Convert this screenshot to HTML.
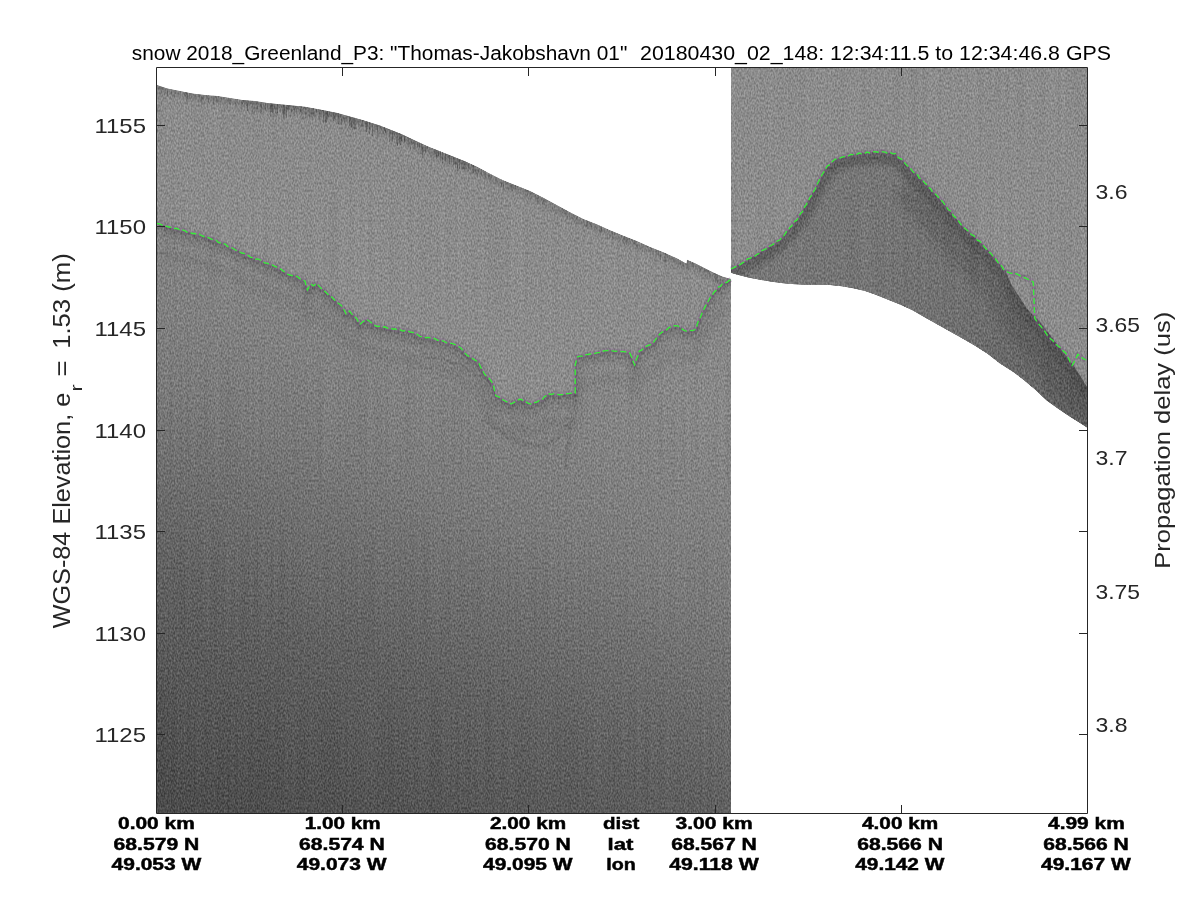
<!DOCTYPE html>
<html><head><meta charset="utf-8"><style>
html,body{margin:0;padding:0;background:#fff;width:1200px;height:900px;overflow:hidden}
svg{display:block;will-change:transform}
</style></head><body>
<svg width="1200" height="900" viewBox="0 0 1200 900">
<defs>
<linearGradient id="gL" gradientUnits="userSpaceOnUse" x1="157" y1="85" x2="-109.4" y2="753.9">
 <stop offset="0.125" stop-color="#878787"/><stop offset="0.292" stop-color="#7f7f7f"/><stop offset="0.385" stop-color="#797979"/>
 <stop offset="0.45" stop-color="#727272"/><stop offset="0.63" stop-color="#606060"/><stop offset="0.8875" stop-color="#4e4e4e"/><stop offset="1" stop-color="#474747"/></linearGradient>
<linearGradient id="gR" gradientUnits="userSpaceOnUse" x1="820" y1="200" x2="1087" y2="430">
 <stop offset="0" stop-color="#777777"/><stop offset="0.5" stop-color="#707070"/><stop offset="1" stop-color="#5e5e5e"/></linearGradient>
<filter id="nz" x="0" y="0" width="1200" height="900" filterUnits="userSpaceOnUse" color-interpolation-filters="sRGB">
 <feTurbulence type="fractalNoise" baseFrequency="0.7 0.4" numOctaves="1" seed="7" result="t"/>
 <feColorMatrix in="t" type="matrix" values="1 0 0 0 0  1 0 0 0 0  1 0 0 0 0  0 0 0 0 1" result="g"/>
 <feTurbulence type="fractalNoise" baseFrequency="0.4 0.006" numOctaves="1" seed="11" result="t2"/>
 <feColorMatrix in="t2" type="matrix" values="1 0 0 0 0  1 0 0 0 0  1 0 0 0 0  0 0 0 0 1" result="g2"/>
 <feComposite in="SourceGraphic" in2="g" operator="arithmetic" k1="0" k2="1" k3="0.36" k4="-0.18" result="o"/>
 <feComposite in="o" in2="g2" operator="arithmetic" k1="0" k2="1" k3="0.06" k4="-0.03" result="o2"/>
 <feComposite in="o2" in2="SourceGraphic" operator="in"/>
</filter>
<filter id="bl" x="-5%" y="-5%" width="110%" height="110%"><feGaussianBlur stdDeviation="2.5"/></filter>
<filter id="bl3" x="-5%" y="-5%" width="110%" height="110%"><feGaussianBlur stdDeviation="0.8"/></filter>
<filter id="bl2" x="-5%" y="-5%" width="110%" height="110%"><feGaussianBlur stdDeviation="5"/></filter>
<clipPath id="cL"><polygon points="157,813 157,84.9 167.5,88.6 180,91.1 192.5,93.6 205,94.9 217.5,96.1 230,98 242.5,99.9 255,101.1 267.5,103 280,104.25 292.5,105.5 305,106.75 320,109.4 337.5,113 362.5,120 380,125.5 390,129.4 402.5,134.4 415,140.6 427.5,146.25 440,151.25 452.5,156.25 465,161.25 477.5,166.9 490,173.75 502.5,180 515,185 530,191 543.3,197.7 556.7,205 570,212.3 583.3,219 596.7,224.3 610,230.3 623.3,235.7 636.7,241 650,247 663.3,252.3 676.7,258.3 686.6,263.75 687,259.8 695.6,263.6 704.4,268 713.3,272.4 722.2,276.4 731,279 731,813"/></clipPath>
<clipPath id="cLlow"><polygon points="157,223.5 175,228.5 206.7,236.7 230,247 253,257.7 276.7,267 290,275 297,276.3 305,281 307.5,290 311,284 313.3,286 316.8,283.3 325,291.5 334.3,299.7 341.3,305.5 346,314 349.5,311 355.3,317.2 360,324.2 365.8,319.5 377.5,326.5 395,328.8 412.5,332.3 420,336.3 431.7,338.7 443.3,341 455,344.5 460.8,348 466.7,355 472.5,358.5 478.3,362 484.2,373.7 490,379.5 493.5,385.3 495.8,395.8 501.7,399.3 511,404 519.2,399.3 530.8,404 542.5,399.3 548.3,393.5 560,394.7 575.2,393 575.2,365 577.5,356.8 595,353.3 609,350.4 618.3,351 630,353.3 634.7,365 639.3,351 653.3,342.8 660,333.8 668.9,327.6 677.8,325.8 686.7,331.1 695.6,329.3 697.3,324 702.7,311.6 708.9,300 715.1,291.1 722.2,284 729.3,280.4 731,279.5 731,813 157,813"/></clipPath>
<clipPath id="cR"><polygon points="731,68 1087,68 1087,427.5 1080,423 1068.9,416 1057.8,408.5 1046.7,400.5 1035.6,390 1024.4,380.5 1013.3,372 1000,363.5 987.5,353.7 975,345.7 962.5,338.5 950,331.5 937.5,324.5 925,317.5 912.5,310.3 900,304.5 887.5,299.4 875,294.4 865,291 853.3,288.3 841.7,286.2 830,285 818.3,284.8 806.7,284.7 795,284.2 783.3,283.25 771.7,281.7 760,279.75 748.3,277.4 736.7,274.5 731,272.75"/></clipPath>
<clipPath id="cRlow"><polygon points="731,269 750,258.3 766.7,248.3 780,239.8 798.3,217.8 811.2,195.8 825.8,168.3 835,159.2 853.3,154.6 875.3,151.8 895.5,153.7 908.3,166.5 926.7,184.8 945,205 963.3,227 981.7,243.5 996.3,260 1005.6,271.1 1012,286 1028,310 1040,322 1060,348 1074,366 1087,387 1087,427.5 1080,423 1068.9,416 1057.8,408.5 1046.7,400.5 1035.6,390 1024.4,380.5 1013.3,372 1000,363.5 987.5,353.7 975,345.7 962.5,338.5 950,331.5 937.5,324.5 925,317.5 912.5,310.3 900,304.5 887.5,299.4 875,294.4 865,291 853.3,288.3 841.7,286.2 830,285 818.3,284.8 806.7,284.7 795,284.2 783.3,283.25 771.7,281.7 760,279.75 748.3,277.4 736.7,274.5 731,272.75"/></clipPath>
</defs>
<rect width="1200" height="900" fill="#fff"/>
<g filter="url(#nz)">
<polygon points="157,813 157,84.9 167.5,88.6 180,91.1 192.5,93.6 205,94.9 217.5,96.1 230,98 242.5,99.9 255,101.1 267.5,103 280,104.25 292.5,105.5 305,106.75 320,109.4 337.5,113 362.5,120 380,125.5 390,129.4 402.5,134.4 415,140.6 427.5,146.25 440,151.25 452.5,156.25 465,161.25 477.5,166.9 490,173.75 502.5,180 515,185 530,191 543.3,197.7 556.7,205 570,212.3 583.3,219 596.7,224.3 610,230.3 623.3,235.7 636.7,241 650,247 663.3,252.3 676.7,258.3 686.6,263.75 687,259.8 695.6,263.6 704.4,268 713.3,272.4 722.2,276.4 731,279 731,813" fill="#8b8b8b"/>
<polygon points="157,223.5 175,228.5 206.7,236.7 230,247 253,257.7 276.7,267 290,275 297,276.3 305,281 307.5,290 311,284 313.3,286 316.8,283.3 325,291.5 334.3,299.7 341.3,305.5 346,314 349.5,311 355.3,317.2 360,324.2 365.8,319.5 377.5,326.5 395,328.8 412.5,332.3 420,336.3 431.7,338.7 443.3,341 455,344.5 460.8,348 466.7,355 472.5,358.5 478.3,362 484.2,373.7 490,379.5 493.5,385.3 495.8,395.8 501.7,399.3 511,404 519.2,399.3 530.8,404 542.5,399.3 548.3,393.5 560,394.7 575.2,393 575.2,365 577.5,356.8 595,353.3 609,350.4 618.3,351 630,353.3 634.7,365 639.3,351 653.3,342.8 660,333.8 668.9,327.6 677.8,325.8 686.7,331.1 695.6,329.3 697.3,324 702.7,311.6 708.9,300 715.1,291.1 722.2,284 729.3,280.4 731,279.5 731,813 157,813" fill="url(#gL)"/>
<polygon points="731,68 1087,68 1087,427.5 1080,423 1068.9,416 1057.8,408.5 1046.7,400.5 1035.6,390 1024.4,380.5 1013.3,372 1000,363.5 987.5,353.7 975,345.7 962.5,338.5 950,331.5 937.5,324.5 925,317.5 912.5,310.3 900,304.5 887.5,299.4 875,294.4 865,291 853.3,288.3 841.7,286.2 830,285 818.3,284.8 806.7,284.7 795,284.2 783.3,283.25 771.7,281.7 760,279.75 748.3,277.4 736.7,274.5 731,272.75" fill="#8b8b8b"/>
<polygon points="731,269 750,258.3 766.7,248.3 780,239.8 798.3,217.8 811.2,195.8 825.8,168.3 835,159.2 853.3,154.6 875.3,151.8 895.5,153.7 908.3,166.5 926.7,184.8 945,205 963.3,227 981.7,243.5 996.3,260 1005.6,271.1 1012,286 1028,310 1040,322 1060,348 1074,366 1087,387 1087,427.5 1080,423 1068.9,416 1057.8,408.5 1046.7,400.5 1035.6,390 1024.4,380.5 1013.3,372 1000,363.5 987.5,353.7 975,345.7 962.5,338.5 950,331.5 937.5,324.5 925,317.5 912.5,310.3 900,304.5 887.5,299.4 875,294.4 865,291 853.3,288.3 841.7,286.2 830,285 818.3,284.8 806.7,284.7 795,284.2 783.3,283.25 771.7,281.7 760,279.75 748.3,277.4 736.7,274.5 731,272.75" fill="url(#gR)"/>
<g clip-path="url(#cL)"><polyline points="157,87.9 167.5,91.6 180,94.1 192.5,96.6 205,97.9 217.5,99.1 230,101 242.5,102.9 255,104.1 267.5,106 280,107.25 292.5,108.5 305,109.75 320,112.4 337.5,116 362.5,123 380,128.5 390,132.4 402.5,137.4 415,143.6 427.5,149.25 440,154.25 452.5,159.25 465,164.25 477.5,169.9 490,176.75 502.5,183 515,188 530,194 543.3,200.7 556.7,208 570,215.3 583.3,222 596.7,227.3 610,233.3 623.3,238.7 636.7,244 650,250 663.3,255.3 676.7,261.3 686.6,266.75 687,262.8 695.6,266.6 704.4,271 713.3,275.4 722.2,279.4 731,282" fill="none" stroke="#555" stroke-opacity="0.3" stroke-width="6" filter="url(#bl)"/>
<path d="M158.5 84.4v4.5M161.5 85.5v5.8M165.5 86.9v6.0M168.5 87.8v4.5M170.5 88.2v2.8M171.5 88.4v5.1M174.5 89.0v10.8M180.5 90.2v4.1M184.5 91.0v6.1M191.5 92.4v4.9M192.5 92.6v2.3M195.5 92.9v7.9M200.5 93.4v7.3M202.5 93.6v8.8M204.5 93.8v2.6M212.5 94.6v4.6M214.5 94.8v6.5M217.5 95.1v5.4M221.5 95.7v3.0M226.5 96.5v6.4M229.5 96.9v6.9M230.5 97.1v7.5M235.5 97.8v8.0M236.5 98.0v6.7M237.5 98.1v2.6M239.5 98.4v4.0M240.5 98.6v2.8M241.5 98.7v13.2M245.5 99.2v4.5M248.5 99.5v10.4M249.5 99.6v6.4M253.5 100.0v13.1M254.5 100.1v15.0M256.5 100.3v13.0M258.5 100.6v4.1M263.5 101.4v11.3M264.5 101.5v4.8M267.5 102.0v13.1M268.5 102.1v8.6M269.5 102.2v2.9M273.5 102.6v14.2M276.5 102.9v14.1M280.5 103.3v6.5M281.5 103.4v6.8M285.5 103.8v10.6M290.5 104.3v13.8M292.5 104.5v6.3M297.5 105.0v3.9M298.5 105.1v6.7M299.5 105.2v4.7M302.5 105.5v14.0M303.5 105.6v14.7M306.5 106.0v13.2M307.5 106.2v12.2M310.5 106.7v12.7M315.5 107.6v14.2M321.5 108.7v4.5M324.5 109.3v6.7M330.5 110.6v10.8M332.5 111.0v6.0M337.5 112.0v10.1M339.5 112.6v12.5M342.5 113.4v10.2M344.5 114.0v10.5M345.5 114.2v13.2M347.5 114.8v2.7M348.5 115.1v3.6M356.5 117.3v5.6M358.5 117.9v9.0M359.5 118.2v7.0M361.5 118.7v8.1M370.5 121.5v8.1M374.5 122.8v13.3M375.5 123.1v6.9M378.5 124.0v3.1M381.5 125.1v2.4M382.5 125.5v2.3M383.5 125.9v8.2M386.5 127.0v11.7M390.5 128.6v11.3M391.5 129.0v12.8M398.5 131.8v8.0M402.5 133.4v6.2M406.5 135.4v4.4M409.5 136.9v8.7M412.5 138.4v8.4M418.5 141.2v5.3M420.5 142.1v11.9M423.5 143.4v14.7M429.5 146.1v7.7M431.5 146.8v13.2M432.5 147.2v7.2M433.5 147.7v10.9M443.5 151.7v10.6M444.5 152.1v9.2M450.5 154.4v4.6M452.5 155.2v2.9M456.5 156.8v8.4M458.5 157.7v5.3M461.5 158.8v9.5M469.5 162.3v5.3M471.5 163.2v8.7M474.5 164.5v10.1M476.5 165.4v11.1M477.5 165.9v10.2M478.5 166.4v6.0M479.5 167.0v3.2M480.5 167.5v3.5M483.5 169.2v6.3M484.5 169.7v7.0M488.5 171.9v9.1M489.5 172.5v9.1M495.5 175.5v6.4M496.5 176.0v6.9M500.5 178.0v5.4M507.5 181.0v2.9M508.5 181.4v10.2M510.5 182.2v7.9M511.5 182.6v9.0M518.5 185.4v7.7M523.5 187.4v3.5M525.5 188.2v9.2M526.5 188.6v5.9M527.5 189.0v7.1M528.5 189.4v2.7M530.5 190.3v10.2M531.5 190.8v7.7M532.5 191.3v2.1M535.5 192.8v6.0M538.5 194.3v9.6M541.5 195.8v5.4M542.5 196.3v10.9M543.5 196.8v9.5M552.5 201.7v9.2M563.5 207.7v3.2M564.5 208.3v5.7M565.5 208.8v6.9M566.5 209.4v10.2M567.5 209.9v9.4M569.5 211.0v9.8M570.5 211.6v2.7M576.5 214.6v9.1M577.5 215.1v3.1M583.5 218.1v4.1M588.5 220.1v5.7M589.5 220.5v2.3M595.5 222.8v5.7M599.5 224.6v8.2M600.5 225.0v10.6M604.5 226.8v4.5M609.5 229.1v9.1M613.5 230.7v3.9M615.5 231.5v9.7M617.5 232.3v9.2M619.5 233.2v2.1M621.5 234.0v4.4M623.5 234.8v8.7M627.5 236.4v6.1M628.5 236.8v6.3M636.5 239.9v9.1M641.5 242.2v6.1M642.5 242.6v9.4M643.5 243.1v2.9M644.5 243.5v4.3M646.5 244.4v2.8M648.5 245.3v3.2M650.5 246.2v5.0M651.5 246.6v9.9M656.5 248.6v7.2M657.5 249.0v6.3M658.5 249.4v7.0M669.5 254.1v3.6M670.5 254.5v5.6M673.5 255.9v6.8M674.5 256.3v5.1M678.5 258.3v8.8M680.5 259.4v8.0M683.5 261.0v5.9M686.5 262.7v4.8M687.5 259.0v7.4M688.5 259.5v10.5M690.5 260.3v3.1M695.5 262.6v9.8M696.5 263.1v6.1M699.5 264.6v8.4M700.5 265.1v5.6M701.5 265.6v10.5M704.5 267.0v9.6M705.5 267.5v5.6M706.5 268.0v4.8M707.5 268.5v9.0M709.5 269.5v9.0M713.5 271.5v3.3M720.5 274.6v10.7M721.5 275.1v2.6M725.5 276.4v2.7M726.5 276.7v2.5M727.5 277.0v9.8" stroke="#333" stroke-opacity="0.12" stroke-width="1"/>
<path d="M159.5 84.8v2.9M162.5 85.8v4.1M163.5 86.2v3.8M167.5 87.6v9.3M175.5 89.2v4.6M185.5 91.2v5.2M186.5 91.4v10.4M187.5 91.6v7.7M189.5 92.0v5.4M193.5 92.7v2.6M198.5 93.2v3.3M199.5 93.3v4.4M201.5 93.5v11.0M203.5 93.7v3.4M206.5 94.0v4.3M208.5 94.2v8.5M213.5 94.7v10.6M215.5 94.9v3.0M216.5 95.0v7.8M218.5 95.3v9.0M224.5 96.2v2.5M228.5 96.8v3.1M242.5 98.9v5.6M244.5 99.1v5.2M246.5 99.3v6.6M250.5 99.7v4.5M251.5 99.8v4.4M252.5 99.9v14.0M257.5 100.5v8.3M260.5 100.9v12.2M266.5 101.8v2.7M274.5 102.7v6.1M275.5 102.8v10.7M279.5 103.2v4.8M282.5 103.5v9.1M289.5 104.2v5.4M291.5 104.4v7.5M296.5 104.9v9.1M305.5 105.8v12.2M308.5 106.4v2.5M309.5 106.5v12.6M311.5 106.9v10.6M312.5 107.1v13.2M318.5 108.1v3.4M319.5 108.3v12.2M320.5 108.5v8.6M328.5 110.1v7.2M340.5 112.8v5.2M341.5 113.1v12.0M343.5 113.7v7.0M350.5 115.6v14.4M352.5 116.2v13.8M353.5 116.5v11.7M355.5 117.0v12.1M357.5 117.6v5.0M360.5 118.4v2.8M364.5 119.6v2.1M365.5 119.9v7.1M367.5 120.6v8.3M368.5 120.9v2.4M376.5 123.4v6.4M377.5 123.7v14.4M379.5 124.3v2.7M387.5 127.4v4.1M388.5 127.8v2.3M389.5 128.2v13.8M394.5 130.2v6.5M396.5 131.0v13.0M403.5 133.9v3.1M405.5 134.9v6.4M407.5 135.9v5.4M408.5 136.4v11.1M410.5 137.4v11.4M411.5 137.9v5.1M414.5 139.4v10.6M415.5 139.8v8.9M417.5 140.7v6.6M421.5 142.5v11.6M424.5 143.9v6.7M425.5 144.3v8.9M426.5 144.8v2.7M427.5 145.2v3.6M428.5 145.7v2.2M434.5 148.1v9.3M437.5 149.2v8.8M446.5 152.8v2.4M447.5 153.2v11.1M448.5 153.7v5.0M451.5 154.8v10.4M454.5 156.1v7.7M455.5 156.4v11.1M462.5 159.2v10.5M464.5 160.1v14.6M466.5 160.9v4.1M467.5 161.4v5.7M468.5 161.8v9.2M472.5 163.6v9.1M475.5 165.0v9.1M481.5 168.1v8.4M485.5 170.3v7.4M491.5 173.5v4.7M501.5 178.5v8.7M503.5 179.4v10.9M505.5 180.2v2.3M512.5 183.0v8.2M513.5 183.4v5.0M515.5 184.2v4.8M517.5 185.0v6.9M521.5 186.6v2.9M537.5 193.8v10.7M544.5 197.4v7.1M562.5 207.2v6.0M586.5 219.3v7.5M587.5 219.7v9.4M590.5 220.8v4.1M591.5 221.2v6.1M594.5 222.4v7.3M601.5 225.5v8.2M607.5 228.2v3.9M612.5 230.3v9.5M614.5 231.1v3.3M624.5 235.2v5.3M625.5 235.6v6.5M626.5 236.0v9.0M629.5 237.2v3.0M631.5 237.9v2.7M632.5 238.3v3.1M634.5 239.1v4.9M635.5 239.5v6.1M647.5 244.9v2.9M660.5 250.2v9.3M665.5 252.3v10.4M666.5 252.7v3.6M675.5 256.8v4.9M682.5 260.5v3.9M692.5 261.2v5.4M693.5 261.7v7.0M708.5 269.0v3.0M714.5 271.9v3.4M715.5 272.4v10.6M716.5 272.8v8.8M717.5 273.3v10.3M729.5 277.6v6.2" stroke="#333" stroke-opacity="0.25" stroke-width="1"/>
<path d="M243.5 99.0v3.7M247.5 99.4v11.5M261.5 101.1v11.1M265.5 101.7v9.0M270.5 102.3v14.2M271.5 102.4v9.7M272.5 102.5v10.5M277.5 103.0v10.1M283.5 103.6v14.8M284.5 103.7v10.7M286.5 103.9v13.6M287.5 104.0v5.5M288.5 104.1v6.5M293.5 104.6v5.4M294.5 104.7v11.2M295.5 104.8v3.0M300.5 105.3v6.6M301.5 105.4v7.3M304.5 105.7v2.3M313.5 107.3v8.6M316.5 107.8v5.4M322.5 108.9v2.0M323.5 109.1v14.2M325.5 109.5v14.0M326.5 109.7v13.0M327.5 109.9v8.6M329.5 110.4v4.5M331.5 110.8v5.9M333.5 111.2v9.5M334.5 111.4v7.7M335.5 111.6v8.2M336.5 111.8v3.1M338.5 112.3v11.8M346.5 114.5v4.8M349.5 115.4v10.7M351.5 115.9v11.4M354.5 116.8v11.8M362.5 119.0v7.5M363.5 119.3v2.3M366.5 120.3v11.6M369.5 121.2v12.4M372.5 122.1v13.8M373.5 122.5v2.4M380.5 124.7v2.9M384.5 126.3v4.8M385.5 126.6v6.8M392.5 129.4v12.0M393.5 129.8v3.6M395.5 130.6v2.9M397.5 131.4v14.5M399.5 132.2v11.5M400.5 132.6v12.5M401.5 133.0v8.0M404.5 134.4v8.0M413.5 138.9v4.9M419.5 141.6v6.1M422.5 143.0v14.7M435.5 148.4v5.2M436.5 148.8v9.9M438.5 149.7v5.9M440.5 150.4v10.1M442.5 151.2v11.9M445.5 152.4v7.9M449.5 154.1v10.1M453.5 155.7v9.7M457.5 157.2v13.6M459.5 158.1v10.8M460.5 158.4v2.3M463.5 159.7v9.6M465.5 160.5v6.3M473.5 164.1v8.7" stroke="#333" stroke-opacity="0.4" stroke-width="1"/>
</g>
<g clip-path="url(#cLlow)"><polyline points="157,229.5 175,234.5 206.7,242.7 230,253 253,263.7 276.7,273 290,281 297,282.3 305,287 307.5,296 311,290 313.3,292 316.8,289.3 325,297.5 334.3,305.7 341.3,311.5 346,320 349.5,317 355.3,323.2 360,330.2 365.8,325.5 377.5,332.5 395,334.8 412.5,338.3 420,342.3 431.7,344.7 443.3,347 455,350.5 460.8,354 466.7,361 472.5,364.5 478.3,368 484.2,379.7 490,385.5 493.5,391.3 495.8,401.8 501.7,405.3 511,410 519.2,405.3 530.8,410 542.5,405.3 548.3,399.5 560,400.7 575.2,399 575.2,371 577.5,362.8 595,359.3 609,356.4 618.3,357 630,359.3 634.7,371 639.3,357 653.3,348.8 660,339.8 668.9,333.6 677.8,331.8 686.7,337.1 695.6,335.3 697.3,330 702.7,317.6 708.9,306 715.1,297.1 722.2,290 729.3,286.4 731,285.5" fill="none" stroke="#444" stroke-opacity="0.16" stroke-width="10" filter="url(#bl)"/><polyline points="157,226 159.6,226.6 162.1,227.2 164.7,227.4 167.3,229.6 169.9,228.6 172.4,230.3 175,231 177.4,232.4 179.9,231.4 182.3,233 184.8,233.8 187.2,233.2 189.6,234.5 192.1,235.8 194.5,236 196.9,237.1 199.4,236.6 201.8,237.4 204.3,237.8 206.7,239.2 209,240.2 211.4,242.1 213.7,242.5 216,243.9 218.3,244.1 220.7,245.9 223,245.6 225.3,247 227.7,248.8 230,249.5 232.3,251 234.6,251.5 236.9,251.9 239.2,253.3 241.5,254.3 243.8,255.5 246.1,257.6 248.4,257.5 250.7,259.9 253,260.2 255.4,261.9 257.7,261.2 260.1,262.7 262.5,263.9 264.9,263.9 267.2,265.6 269.6,267.5 272,266.9 274.3,268.8 276.7,269.5 278.9,270.1 281.1,272.3 283.4,274.3 285.6,274.2 287.8,275.2 290,277.5 293.5,277.3 297,278.8 299.7,280.4 302.3,281 305,283.5 305.8,285.7 306.7,289.5 307.5,292.5 309.2,290.3 311,286.5 313.3,288.5 316.8,285.8 318.9,287.7 320.9,289.7 322.9,292.2 325,294 327.3,295.2 329.6,298.3 332,299.5 334.3,302.2 336.6,304.4 339,307 341.3,308 342.9,309.9 344.4,313.8 346,316.5 349.5,313.5 351.4,315.8 353.4,316.9 355.3,319.7 356.9,321.6 358.4,325.4 360,326.7 362.9,325.3 365.8,322 368.1,322.6 370.5,325.2 372.8,327.1 375.2,327.1 377.5,329 380,329.6 382.5,328.7 385,329.7 387.5,330.7 390,330.8 392.5,331.5 395,331.3 397.5,331 400,332 402.5,333.5 405,333.5 407.5,333.7 410,334.1 412.5,334.8 415,337.1 417.5,337.6 420,338.8 422.9,338.4 425.9,340.6 428.8,340.3 431.7,341.2 434.6,341.6 437.5,341.8 440.4,342.8 443.3,343.5 446.2,344 449.1,344.4 452.1,346.4 455,347 457.9,348 460.8,350.5 462.8,353.4 464.7,354.2 466.7,357.5 469.6,359.8 472.5,361 475.4,363.4 478.3,364.5 479.5,366.8 480.7,369.6 481.8,371 483,374.3 484.2,376.2 486.1,378 488.1,379.5 490,382 491.8,385.8 493.5,387.8 494.1,390.2 494.6,392.8 495.2,396.4 495.8,398.3 498.8,399.8 501.7,401.8 504,403.3 506.4,403.5 508.7,406 511,406.5 513.7,404.5 516.5,402.5 519.2,401.8 521.5,403.7 523.8,403 526.2,405.5 528.5,406.5 530.8,406.5 533.1,405.8 535.5,403.6 537.8,402.8 540.2,402.2 542.5,401.8 544.4,399.6 546.4,398.2 548.3,396 551.2,397.2 554.1,396.3 557.1,396.2 560,397.2 562.5,397 565.1,395.9 567.6,395.5 570.1,396.2 572.7,396.2 575.2,395.5 575.2,392.1 575.2,390.3 575.2,388.3 575.2,385.8 575.2,382.5 575.2,381 575.2,377 575.2,375.6 575.2,373.1 575.2,370.8 575.2,367.5 576,364.8 576.7,361.2 577.5,359.3 580,357.9 582.5,358.4 585,357.1 587.5,357.6 590,356 592.5,356.9 595,355.8 597.8,354.7 600.6,353.7 603.4,353.4 606.2,353.4 609,352.9 612.1,353.2 615.2,353.1 618.3,353.5 621.2,353.4 624.1,354.6 627.1,356.1 630,355.8 630.9,358.2 631.9,361.4 632.8,361.9 633.8,366.1 634.7,367.5 635.6,365.5 636.5,362 637.5,359.1 638.4,356.4 639.3,353.5 641.6,353 644,349.9 646.3,349.7 648.6,348.1 651,346.3 653.3,345.3 655,343.5 656.6,341.2 658.3,337.8 660,336.3 662.2,335.1 664.5,333.1 666.7,331.6 668.9,330.1 671.9,329.8 674.8,328 677.8,328.3 680,329.8 682.2,330.7 684.5,333 686.7,333.6 689.7,332.5 692.6,333 695.6,331.8 696.5,329.6 697.3,326.5 698.4,324.3 699.5,322.3 700.5,318.1 701.6,316.8 702.7,314.1 703.9,312 705.2,309.8 706.4,307 707.7,304 708.9,302.5 710.5,299.7 712,298.3 713.5,295.2 715.1,293.6 716.9,291 718.7,289.8 720.4,288.2 722.2,286.5 724.6,285.4 726.9,283.2 729.3,282.9 731,282" fill="none" stroke="#2a2a2a" stroke-opacity="0.35" stroke-width="1.6" filter="url(#bl3)"/><polyline points="157,251.5 175,256.5 206.7,264.7 230,275 253,285.7 276.7,295 290,303 297,304.3 305,309 307.5,318 311,312 313.3,314 316.8,311.3 325,319.5 334.3,327.7 341.3,333.5 346,342 349.5,339 355.3,345.2 360,352.2 365.8,347.5 377.5,354.5 395,356.8 412.5,360.3 420,364.3 431.7,366.7 443.3,369 455,372.5 460.8,376 466.7,383 472.5,386.5 478.3,390 484.2,401.7 490,407.5 493.5,413.3 495.8,423.8 501.7,427.3 511,432 519.2,427.3 530.8,432 542.5,427.3 548.3,421.5 560,422.7 575.2,421 575.2,393 577.5,384.8 595,381.3 609,378.4 618.3,379 630,381.3 634.7,393 639.3,379 653.3,370.8 660,361.8 668.9,355.6 677.8,353.8 686.7,359.1 695.6,357.3 697.3,352 702.7,339.6 708.9,328 715.1,319.1 722.2,312 729.3,308.4 731,307.5" fill="none" stroke="#444" stroke-opacity="0.12" stroke-width="8" filter="url(#bl)"/><path d="M486,416 C496,434 515,443 540,446 C552,446 560,436 569,423 M572,418 L565,470 M420,355 C440,357 460,362 476,376" fill="none" stroke="#2a2a2a" stroke-opacity="0.24" stroke-width="1.6" filter="url(#bl3)"/></g>
<g clip-path="url(#cRlow)"><polyline points="731,274 750,263.3 766.7,253.3 780,244.8 798.3,222.8 811.2,200.8 825.8,173.3 835,164.2 853.3,159.6 875.3,156.8 895.5,158.7 908.3,171.5 926.7,189.8 945,210 963.3,232 981.7,248.5 996.3,265 1005.6,276.1 1012,291 1028,315 1040,327 1060,353 1074,371 1087,392" fill="none" stroke="#333" stroke-opacity="0.35" stroke-width="14" filter="url(#bl)"/><polyline points="902.3,188.5 920.7,206.8 939,227 957.3,249 975.7,265.5 990.3,282 999.6,293.1 1006,308 1022,332 1034,344 1054,370 1068,388 1081,409" fill="none" stroke="#333" stroke-opacity="0.22" stroke-width="24" filter="url(#bl2)"/></g>
</g>
<g fill="none" stroke-linejoin="round"><polyline points="157,223.5 159.6,223.8 162.1,225 164.7,225.4 167.3,226.5 169.9,227.3 172.4,227.1 175,228.5 177.4,228.4 179.9,230.3 182.3,230 184.8,230.6 187.2,232.4 189.6,232.2 192.1,233.5 194.5,233.5 196.9,234.4 199.4,234.2 201.8,235.7 204.3,236.7 206.7,236.7 209,237.8 211.4,239.1 213.7,240.1 216,240.1 218.3,242.3 220.7,243 223,243.6 225.3,244.2 227.7,246.6 230,247 232.3,248 234.6,249.5 236.9,250.8 239.2,251.6 241.5,253 243.8,253.3 246.1,255 248.4,255.5 250.7,257.3 253,257.7 255.4,259.2 257.7,258.9 260.1,259.9 262.5,261 264.9,263.1 267.2,263.2 269.6,264.4 272,264.8 274.3,266.1 276.7,267 278.9,268.2 281.1,269.4 283.4,271.1 285.6,272.5 287.8,274.3 290,275 293.5,275.9 297,276.3 299.7,278.6 302.3,280 305,281 305.8,284.8 306.7,287.3 307.5,290 309.2,286.5 311,284 313.3,286 316.8,283.3 318.9,285.9 320.9,288.1 322.9,290.1 325,291.5 327.3,293.7 329.6,295.9 332,297.2 334.3,299.7 336.6,302.2 339,303.7 341.3,305.5 342.9,308 344.4,310.5 346,314 349.5,311 351.4,313.6 353.4,315.9 355.3,317.2 356.9,318.9 358.4,322.3 360,324.2 362.9,321.7 365.8,319.5 368.1,320.3 370.5,322 372.8,324.1 375.2,325.7 377.5,326.5 380,326.1 382.5,327.3 385,326.8 387.5,328.2 390,327.9 392.5,329.1 395,328.8 397.5,330.1 400,329.8 402.5,331.1 405,330.5 407.5,330.6 410,332 412.5,332.3 415,332.9 417.5,334.5 420,336.3 422.9,336.8 425.9,337.7 428.8,337.5 431.7,338.7 434.6,338.5 437.5,340.4 440.4,340.1 443.3,341 446.2,342.6 449.1,343.4 452.1,343.4 455,344.5 457.9,346.2 460.8,348 462.8,350.4 464.7,352.9 466.7,355 469.6,356.9 472.5,358.5 475.4,360.3 478.3,362 479.5,364.5 480.7,367.4 481.8,369 483,371.2 484.2,373.7 486.1,376 488.1,377.1 490,379.5 491.8,382.1 493.5,385.3 494.1,388.7 494.6,390.6 495.2,393.3 495.8,395.8 498.8,396.8 501.7,399.3 504,400.3 506.4,401.8 508.7,402.1 511,404 513.7,402.6 516.5,401.1 519.2,399.3 521.5,399.5 523.8,401.4 526.2,402.1 528.5,403.3 530.8,404 533.1,402.8 535.5,402.5 537.8,401.6 540.2,399.5 542.5,399.3 544.4,396.7 546.4,395.7 548.3,393.5 551.2,394.5 554.1,393.7 557.1,394.3 560,394.7 562.5,394.6 565.1,393.8 567.6,393.6 570.1,393.3 572.7,393.1 575.2,393 575.2,390.6 575.2,387.6 575.2,385.2 575.2,383.3 575.2,379.5 575.2,377.8 575.2,375.6 575.2,372.3 575.2,369.6 575.2,368 575.2,365 576,361.8 576.7,359 577.5,356.8 580,356.2 582.5,356.1 585,354.7 587.5,354.5 590,354 592.5,354.3 595,353.3 597.8,352.6 600.6,352.7 603.4,351 606.2,350.7 609,350.4 612.1,350.8 615.2,351.4 618.3,351 621.2,351.5 624.1,351.7 627.1,352.1 630,353.3 630.9,355.7 631.9,357.5 632.8,360.8 633.8,363.2 634.7,365 635.6,361.7 636.5,359 637.5,357.1 638.4,354 639.3,351 641.6,350.1 644,348 646.3,346.3 648.6,345.2 651,344.6 653.3,342.8 655,340.2 656.6,338.1 658.3,335.9 660,333.8 662.2,332.1 664.5,330.6 666.7,329.8 668.9,327.6 671.9,326.4 674.8,325.6 677.8,325.8 680,327.8 682.2,329.1 684.5,330.6 686.7,331.1 689.7,330.4 692.6,330.6 695.6,329.3 696.5,327.3 697.3,324 698.4,321.1 699.5,319.4 700.5,317.1 701.6,314.3 702.7,311.6 703.9,309.3 705.2,306.6 706.4,304.4 707.7,301.9 708.9,300 710.5,297.1 712,295.7 713.5,293 715.1,291.1 716.9,289.8 718.7,286.8 720.4,286.4 722.2,284 724.6,283.1 726.9,282.3 729.3,280.4 731,279.5" stroke="#7a4a86" stroke-opacity="0.25" stroke-width="5"/><polyline points="731,269 733.4,267.9 735.8,266.7 738.1,265.5 740.5,264.4 742.9,262.7 745.2,261.7 747.6,258.9 750,258.3 752.4,256.8 754.8,256.2 757.2,254.3 759.5,253.2 761.9,250.5 764.3,249.7 766.7,248.3 768.9,246.5 771.1,245.5 773.4,244.2 775.6,241.9 777.8,240.8 780,239.8 781.7,237.4 783.3,236.5 785,234.2 786.7,231.3 788.3,230.3 790,227.2 791.6,226 793.3,223.2 795,221 796.6,220.4 798.3,217.8 799.6,215.1 800.9,212.9 802.2,212 803.5,209.6 804.8,206.5 806,205.3 807.3,202.5 808.6,200.5 809.9,197.5 811.2,195.8 812.4,194.2 813.6,191.5 814.9,189.7 816.1,187.3 817.3,184 818.5,181.8 819.7,179.2 820.9,176.9 822.1,174.5 823.4,172.6 824.6,170.8 825.8,168.3 827.6,165.7 829.5,164.9 831.3,162.6 833.2,160.7 835,159.2 837.6,159.1 840.2,157.9 842.8,156.9 845.5,156.5 848.1,156.2 850.7,154.5 853.3,154.6 856,155 858.8,153.1 861.5,153.9 864.3,153.8 867,152.1 869.8,153 872.5,151.9 875.3,151.8 877.8,152.2 880.3,151.5 882.9,151.8 885.4,152.2 887.9,153.7 890.5,152.7 893,153.9 895.5,153.7 897.3,156.2 899.2,158.1 901,158.9 902.8,160.8 904.6,162.9 906.5,165.1 908.3,166.5 910.1,167.7 912,170.6 913.8,172.5 915.7,174.4 917.5,174.9 919.3,178.2 921.2,178.7 923,180.9 924.9,183.1 926.7,184.8 928.5,187.5 930.4,188.6 932.2,191.5 934,193 935.9,194.6 937.7,196.6 939.5,198.4 941.3,200.3 943.2,202.4 945,205 946.7,207.3 948.3,209.8 950,210.5 951.7,212.3 953.3,215.8 955,217.1 956.6,218.8 958.3,220.6 960,223.2 961.6,225.5 963.3,227 965.3,228.8 967.4,230.5 969.4,231.8 971.5,235 973.5,235.4 975.6,238 977.6,240.4 979.7,241.1 981.7,243.5 983.5,245.9 985.4,248.3 987.2,249.9 989,252.2 990.8,253.2 992.6,255.8 994.5,257.4 996.3,260 998.2,262.8 1000,264.1 1001.9,266.6 1003.7,269.7 1005.6,271.1 1008.4,272.4 1011.2,273.3 1013.9,273.1 1016.7,273.9 1019.1,275.1 1021.4,276.6 1023.8,277.4 1026.2,278.3 1028.6,279.7 1030.9,280.4 1033.3,282.2 1033.4,284.6 1033.5,288.1 1033.6,290.7 1033.7,292.7 1033.8,295.1 1033.9,297.4 1034,299.6 1034.1,302.5 1034.2,305.9 1034.3,308.6 1034.4,310.3 1034.5,313.6 1034.6,316.2 1034.7,318.3 1036.3,320.7 1037.9,322.7 1039.4,324.9 1041,326.4 1042.6,329 1044.2,330.4 1045.7,332.8 1047.3,335.4 1048.9,337 1050.9,339.2 1052.9,340.5 1054.8,343.5 1056.8,345 1058.8,346.8 1060.8,347.8 1062.7,350.6 1064.7,352.1 1066.7,354.4 1068,357.5 1069.3,359.9 1070.7,363.3 1072,365.6 1073.2,363.6 1074.3,361.6 1075.5,358.6 1076.6,356.9 1077.8,354.4 1080.5,356.6 1083.3,358.7 1086,360" stroke="#7a4a86" stroke-opacity="0.25" stroke-width="5"/></g>
<g fill="none" stroke="#38ee38" stroke-width="1.35" stroke-dasharray="6 3"><polyline points="157,223.5 159.6,223.8 162.1,225 164.7,225.4 167.3,226.5 169.9,227.3 172.4,227.1 175,228.5 177.4,228.4 179.9,230.3 182.3,230 184.8,230.6 187.2,232.4 189.6,232.2 192.1,233.5 194.5,233.5 196.9,234.4 199.4,234.2 201.8,235.7 204.3,236.7 206.7,236.7 209,237.8 211.4,239.1 213.7,240.1 216,240.1 218.3,242.3 220.7,243 223,243.6 225.3,244.2 227.7,246.6 230,247 232.3,248 234.6,249.5 236.9,250.8 239.2,251.6 241.5,253 243.8,253.3 246.1,255 248.4,255.5 250.7,257.3 253,257.7 255.4,259.2 257.7,258.9 260.1,259.9 262.5,261 264.9,263.1 267.2,263.2 269.6,264.4 272,264.8 274.3,266.1 276.7,267 278.9,268.2 281.1,269.4 283.4,271.1 285.6,272.5 287.8,274.3 290,275 293.5,275.9 297,276.3 299.7,278.6 302.3,280 305,281 305.8,284.8 306.7,287.3 307.5,290 309.2,286.5 311,284 313.3,286 316.8,283.3 318.9,285.9 320.9,288.1 322.9,290.1 325,291.5 327.3,293.7 329.6,295.9 332,297.2 334.3,299.7 336.6,302.2 339,303.7 341.3,305.5 342.9,308 344.4,310.5 346,314 349.5,311 351.4,313.6 353.4,315.9 355.3,317.2 356.9,318.9 358.4,322.3 360,324.2 362.9,321.7 365.8,319.5 368.1,320.3 370.5,322 372.8,324.1 375.2,325.7 377.5,326.5 380,326.1 382.5,327.3 385,326.8 387.5,328.2 390,327.9 392.5,329.1 395,328.8 397.5,330.1 400,329.8 402.5,331.1 405,330.5 407.5,330.6 410,332 412.5,332.3 415,332.9 417.5,334.5 420,336.3 422.9,336.8 425.9,337.7 428.8,337.5 431.7,338.7 434.6,338.5 437.5,340.4 440.4,340.1 443.3,341 446.2,342.6 449.1,343.4 452.1,343.4 455,344.5 457.9,346.2 460.8,348 462.8,350.4 464.7,352.9 466.7,355 469.6,356.9 472.5,358.5 475.4,360.3 478.3,362 479.5,364.5 480.7,367.4 481.8,369 483,371.2 484.2,373.7 486.1,376 488.1,377.1 490,379.5 491.8,382.1 493.5,385.3 494.1,388.7 494.6,390.6 495.2,393.3 495.8,395.8 498.8,396.8 501.7,399.3 504,400.3 506.4,401.8 508.7,402.1 511,404 513.7,402.6 516.5,401.1 519.2,399.3 521.5,399.5 523.8,401.4 526.2,402.1 528.5,403.3 530.8,404 533.1,402.8 535.5,402.5 537.8,401.6 540.2,399.5 542.5,399.3 544.4,396.7 546.4,395.7 548.3,393.5 551.2,394.5 554.1,393.7 557.1,394.3 560,394.7 562.5,394.6 565.1,393.8 567.6,393.6 570.1,393.3 572.7,393.1 575.2,393 575.2,390.6 575.2,387.6 575.2,385.2 575.2,383.3 575.2,379.5 575.2,377.8 575.2,375.6 575.2,372.3 575.2,369.6 575.2,368 575.2,365 576,361.8 576.7,359 577.5,356.8 580,356.2 582.5,356.1 585,354.7 587.5,354.5 590,354 592.5,354.3 595,353.3 597.8,352.6 600.6,352.7 603.4,351 606.2,350.7 609,350.4 612.1,350.8 615.2,351.4 618.3,351 621.2,351.5 624.1,351.7 627.1,352.1 630,353.3 630.9,355.7 631.9,357.5 632.8,360.8 633.8,363.2 634.7,365 635.6,361.7 636.5,359 637.5,357.1 638.4,354 639.3,351 641.6,350.1 644,348 646.3,346.3 648.6,345.2 651,344.6 653.3,342.8 655,340.2 656.6,338.1 658.3,335.9 660,333.8 662.2,332.1 664.5,330.6 666.7,329.8 668.9,327.6 671.9,326.4 674.8,325.6 677.8,325.8 680,327.8 682.2,329.1 684.5,330.6 686.7,331.1 689.7,330.4 692.6,330.6 695.6,329.3 696.5,327.3 697.3,324 698.4,321.1 699.5,319.4 700.5,317.1 701.6,314.3 702.7,311.6 703.9,309.3 705.2,306.6 706.4,304.4 707.7,301.9 708.9,300 710.5,297.1 712,295.7 713.5,293 715.1,291.1 716.9,289.8 718.7,286.8 720.4,286.4 722.2,284 724.6,283.1 726.9,282.3 729.3,280.4 731,279.5"/><polyline points="731,269 733.4,267.9 735.8,266.7 738.1,265.5 740.5,264.4 742.9,262.7 745.2,261.7 747.6,258.9 750,258.3 752.4,256.8 754.8,256.2 757.2,254.3 759.5,253.2 761.9,250.5 764.3,249.7 766.7,248.3 768.9,246.5 771.1,245.5 773.4,244.2 775.6,241.9 777.8,240.8 780,239.8 781.7,237.4 783.3,236.5 785,234.2 786.7,231.3 788.3,230.3 790,227.2 791.6,226 793.3,223.2 795,221 796.6,220.4 798.3,217.8 799.6,215.1 800.9,212.9 802.2,212 803.5,209.6 804.8,206.5 806,205.3 807.3,202.5 808.6,200.5 809.9,197.5 811.2,195.8 812.4,194.2 813.6,191.5 814.9,189.7 816.1,187.3 817.3,184 818.5,181.8 819.7,179.2 820.9,176.9 822.1,174.5 823.4,172.6 824.6,170.8 825.8,168.3 827.6,165.7 829.5,164.9 831.3,162.6 833.2,160.7 835,159.2 837.6,159.1 840.2,157.9 842.8,156.9 845.5,156.5 848.1,156.2 850.7,154.5 853.3,154.6 856,155 858.8,153.1 861.5,153.9 864.3,153.8 867,152.1 869.8,153 872.5,151.9 875.3,151.8 877.8,152.2 880.3,151.5 882.9,151.8 885.4,152.2 887.9,153.7 890.5,152.7 893,153.9 895.5,153.7 897.3,156.2 899.2,158.1 901,158.9 902.8,160.8 904.6,162.9 906.5,165.1 908.3,166.5 910.1,167.7 912,170.6 913.8,172.5 915.7,174.4 917.5,174.9 919.3,178.2 921.2,178.7 923,180.9 924.9,183.1 926.7,184.8 928.5,187.5 930.4,188.6 932.2,191.5 934,193 935.9,194.6 937.7,196.6 939.5,198.4 941.3,200.3 943.2,202.4 945,205 946.7,207.3 948.3,209.8 950,210.5 951.7,212.3 953.3,215.8 955,217.1 956.6,218.8 958.3,220.6 960,223.2 961.6,225.5 963.3,227 965.3,228.8 967.4,230.5 969.4,231.8 971.5,235 973.5,235.4 975.6,238 977.6,240.4 979.7,241.1 981.7,243.5 983.5,245.9 985.4,248.3 987.2,249.9 989,252.2 990.8,253.2 992.6,255.8 994.5,257.4 996.3,260 998.2,262.8 1000,264.1 1001.9,266.6 1003.7,269.7 1005.6,271.1 1008.4,272.4 1011.2,273.3 1013.9,273.1 1016.7,273.9 1019.1,275.1 1021.4,276.6 1023.8,277.4 1026.2,278.3 1028.6,279.7 1030.9,280.4 1033.3,282.2 1033.4,284.6 1033.5,288.1 1033.6,290.7 1033.7,292.7 1033.8,295.1 1033.9,297.4 1034,299.6 1034.1,302.5 1034.2,305.9 1034.3,308.6 1034.4,310.3 1034.5,313.6 1034.6,316.2 1034.7,318.3 1036.3,320.7 1037.9,322.7 1039.4,324.9 1041,326.4 1042.6,329 1044.2,330.4 1045.7,332.8 1047.3,335.4 1048.9,337 1050.9,339.2 1052.9,340.5 1054.8,343.5 1056.8,345 1058.8,346.8 1060.8,347.8 1062.7,350.6 1064.7,352.1 1066.7,354.4 1068,357.5 1069.3,359.9 1070.7,363.3 1072,365.6 1073.2,363.6 1074.3,361.6 1075.5,358.6 1076.6,356.9 1077.8,354.4 1080.5,356.6 1083.3,358.7 1086,360"/></g>
<path d="M156.5 67.5H1087.5V813.5H156.5Z" fill="none" stroke="#262626" stroke-width="1"/>
<path d="M157 125.5h8M1087 125.5h-8M157 226.5h8M1087 226.5h-8M157 328.5h8M1087 328.5h-8M157 430.5h8M1087 430.5h-8M157 531.5h8M1087 531.5h-8M157 633.5h8M1087 633.5h-8M157 734.5h8M1087 734.5h-8M342.5 68v8M342.5 813v-8M528.5 68v8M528.5 813v-8M715.5 68v8M715.5 813v-8M901.5 68v8M901.5 813v-8" stroke="#262626" stroke-width="1" fill="none"/>
<g font-family="&quot;Liberation Sans&quot;, sans-serif" fill="#262626">
<text x="146" y="132.8" font-size="21" text-anchor="end" textLength="51.5" lengthAdjust="spacingAndGlyphs">1155</text>
<text x="146" y="233.8" font-size="21" text-anchor="end" textLength="51.5" lengthAdjust="spacingAndGlyphs">1150</text>
<text x="146" y="335.8" font-size="21" text-anchor="end" textLength="51.5" lengthAdjust="spacingAndGlyphs">1145</text>
<text x="146" y="437.8" font-size="21" text-anchor="end" textLength="51.5" lengthAdjust="spacingAndGlyphs">1140</text>
<text x="146" y="538.8" font-size="21" text-anchor="end" textLength="51.5" lengthAdjust="spacingAndGlyphs">1135</text>
<text x="146" y="640.8" font-size="21" text-anchor="end" textLength="51.5" lengthAdjust="spacingAndGlyphs">1130</text>
<text x="146" y="741.8" font-size="21" text-anchor="end" textLength="51.5" lengthAdjust="spacingAndGlyphs">1125</text>
<text x="1095.5" y="198.5" font-size="21" textLength="32" lengthAdjust="spacingAndGlyphs">3.6</text>
<text x="1095.5" y="331.8" font-size="21" textLength="44.5" lengthAdjust="spacingAndGlyphs">3.65</text>
<text x="1095.5" y="465.2" font-size="21" textLength="32" lengthAdjust="spacingAndGlyphs">3.7</text>
<text x="1095.5" y="598.5" font-size="21" textLength="44.5" lengthAdjust="spacingAndGlyphs">3.75</text>
<text x="1095.5" y="731.9" font-size="21" textLength="32" lengthAdjust="spacingAndGlyphs">3.8</text>
</g>
<g font-family="&quot;Liberation Sans&quot;, sans-serif" font-size="19.6" fill="#000">
<text x="131.8" y="59.8" textLength="495.5" lengthAdjust="spacingAndGlyphs">snow 2018_Greenland_P3: "Thomas-Jakobshavn 01"</text>
<text x="640" y="59.8" textLength="471" lengthAdjust="spacingAndGlyphs">20180430_02_148: 12:34:11.5 to 12:34:46.8 GPS</text>
</g>
<g font-family="&quot;Liberation Sans&quot;, sans-serif" font-size="23.5" fill="#262626">
<text transform="translate(70.4 628.3) rotate(-90)" textLength="235.5" lengthAdjust="spacingAndGlyphs">WGS-84 Elevation, e</text>
<text transform="translate(81.5 391.6) rotate(-90)" font-size="16" textLength="7.2" lengthAdjust="spacingAndGlyphs">r</text>
<text transform="translate(70.4 376.5) rotate(-90)" textLength="16" lengthAdjust="spacingAndGlyphs">=</text>
<text transform="translate(70.4 348.8) rotate(-90)" textLength="95.5" lengthAdjust="spacingAndGlyphs">1.53 (m)</text>
<text transform="translate(1170.4 568.8) rotate(-90)" font-size="22.5" textLength="257" lengthAdjust="spacingAndGlyphs">Propagation delay (us)</text>
</g>
<g font-family="&quot;Liberation Sans&quot;, sans-serif" font-size="16" font-weight="bold" fill="#000" stroke="#000" stroke-width="0.45" text-anchor="middle">
<text x="156.4" y="828.8" textLength="76.8" lengthAdjust="spacingAndGlyphs">0.00 km</text>
<text x="156.4" y="849.6" textLength="85.7" lengthAdjust="spacingAndGlyphs">68.579 N</text>
<text x="156.4" y="870.4" textLength="89.6" lengthAdjust="spacingAndGlyphs">49.053 W</text>
<text x="342.6" y="828.8" textLength="75.9" lengthAdjust="spacingAndGlyphs">1.00 km</text>
<text x="341.9" y="849.6" textLength="85.6" lengthAdjust="spacingAndGlyphs">68.574 N</text>
<text x="341.6" y="870.4" textLength="89.6" lengthAdjust="spacingAndGlyphs">49.073 W</text>
<text x="528.1" y="828.8" textLength="76.1" lengthAdjust="spacingAndGlyphs">2.00 km</text>
<text x="527.9" y="849.6" textLength="85.7" lengthAdjust="spacingAndGlyphs">68.570 N</text>
<text x="527.8" y="870.4" textLength="89.5" lengthAdjust="spacingAndGlyphs">49.095 W</text>
<text x="621.2" y="828.8" textLength="36.5" lengthAdjust="spacingAndGlyphs">dist</text>
<text x="620.4" y="849.6" textLength="25.8" lengthAdjust="spacingAndGlyphs">lat</text>
<text x="621" y="870.4" textLength="29.5" lengthAdjust="spacingAndGlyphs">lon</text>
<text x="714.1" y="828.8" textLength="77.2" lengthAdjust="spacingAndGlyphs">3.00 km</text>
<text x="714.0" y="849.6" textLength="85.7" lengthAdjust="spacingAndGlyphs">68.567 N</text>
<text x="714.0" y="870.4" textLength="89.5" lengthAdjust="spacingAndGlyphs">49.118 W</text>
<text x="900.15" y="828.8" textLength="76.2" lengthAdjust="spacingAndGlyphs">4.00 km</text>
<text x="900.1" y="849.6" textLength="85.7" lengthAdjust="spacingAndGlyphs">68.566 N</text>
<text x="899.8" y="870.4" textLength="89.0" lengthAdjust="spacingAndGlyphs">49.142 W</text>
<text x="1086.4" y="828.8" textLength="76.7" lengthAdjust="spacingAndGlyphs">4.99 km</text>
<text x="1086" y="849.6" textLength="85.5" lengthAdjust="spacingAndGlyphs">68.566 N</text>
<text x="1085.9" y="870.4" textLength="89.7" lengthAdjust="spacingAndGlyphs">49.167 W</text>
</g>
</svg>
</body></html>
